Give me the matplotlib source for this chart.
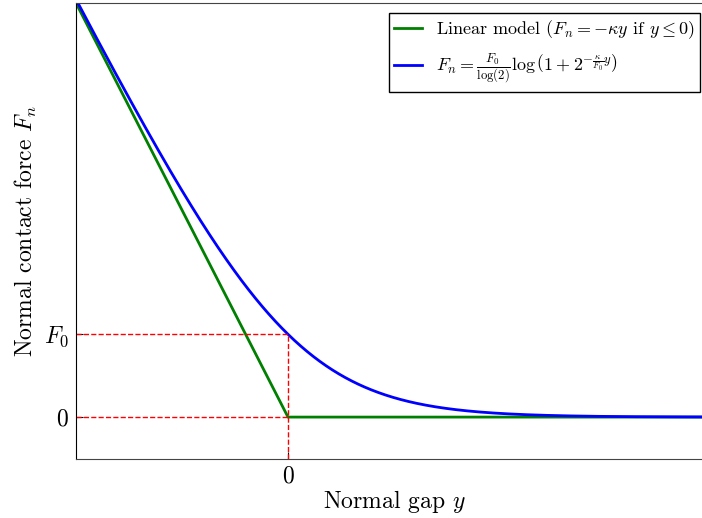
import numpy as np
import matplotlib
matplotlib.use("Agg")
import matplotlib.pyplot as plt

plt.rcParams['font.family'] = ['cmr10', 'DejaVu Serif']
plt.rcParams['mathtext.fontset'] = 'cm'
plt.rcParams['axes.formatter.use_mathtext'] = True

# model parameters
F0 = 1.0
kappa = 5.0
x_range = [-1.0, 2.0]
y_range = [-0.5, 5.0]
xtick_vals = [0]
xtick_labels = ['$0$']
ytick_vals = [0, F0]
ytick_labels = ['$0$', '$F_0$']

y = np.linspace(x_range[0], x_range[1], 1000)
F_lin = np.where(y <= 0, -kappa * y, 0.0)
F_log = F0 / np.log(2) * np.log(1 + 2 ** (-kappa / F0 * y))

fig = plt.figure(figsize=(7.02, 5.18), dpi=100)
ax_l, ax_b, ax_w, ax_h = 76, 458.5, 636, 455.5
ax = fig.add_axes([ax_l/702, 1 - ax_b/518, ax_w/702, ax_h/518])

ax.plot(y, F_lin, color='green', lw=2,
        label=r'Linear model ($F_n = -\kappa y$ if $y \leq 0$)')
ax.plot(y, F_log, color='blue', lw=2,
        label=r'$F_n = \frac{F_0}{\log(2)}\log\left(1+2^{-\frac{\kappa}{F_0}y}\right)$')

ax.plot([x_range[0], 0], [F0, F0], color='red', ls='--', lw=1)
ax.plot([x_range[0], 0], [0, 0], color='red', ls='--', lw=1)
ax.plot([0, 0], [y_range[0], F0], color='red', ls='--', lw=1)

ax.set_xlim(x_range)
ax.set_ylim(y_range)
ax.set_xticks(xtick_vals)
ax.set_xticklabels(xtick_labels, fontsize=17)
ax.set_yticks(ytick_vals)
ax.set_yticklabels(ytick_labels, fontsize=17)
ax.tick_params(direction='in', length=5, top=False, right=False, pad=5)
ax.set_xlabel(r'Normal gap $y$', fontsize=17, labelpad=0)
ax.set_ylabel(r'Normal contact force $F_n$', fontsize=17, labelpad=4)
for s in ['top', 'bottom']:
    ax.spines[s].set_color('#444444')

leg = ax.legend(loc='upper right',
                bbox_to_anchor=((700 - ax_l)/ax_w, (ax_b - 13)/ax_h),
                fontsize=13, fancybox=False, framealpha=1, edgecolor='black',
                handlelength=1.5, borderaxespad=0, borderpad=0.3,
                labelspacing=0.6)
leg.get_frame().set_linewidth(1.0)

fig.savefig('out.png', dpi=100)
